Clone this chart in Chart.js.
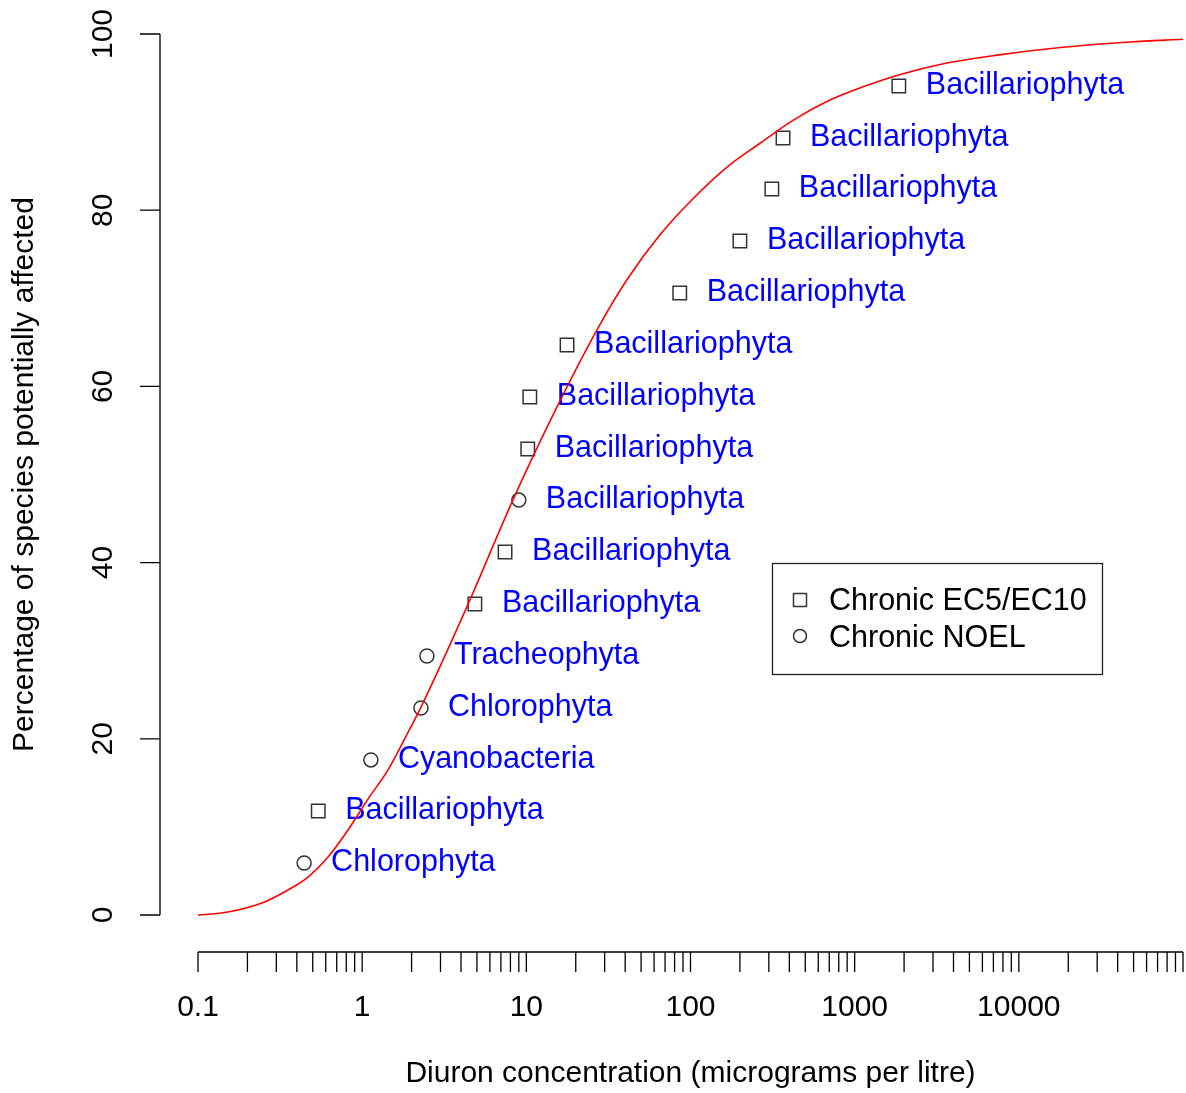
<!DOCTYPE html>
<html>
<head>
<meta charset="utf-8">
<script src="https://cdn.jsdelivr.net/npm/chart.js@4.4.0/dist/chart.umd.min.js"></script>
<style>
  html, body { margin: 0; padding: 0; background: #fff; }
  #wrap { width: 1186px; height: 1093px; }
</style>
</head>
<body>
<div id="wrap"><canvas id="ssdChart"></canvas></div>
<script>
// species sensitivity data
const speciesNames = ['Chlorophyta', 'Bacillariophyta', 'Cyanobacteria', 'Chlorophyta', 'Tracheophyta',
  'Bacillariophyta', 'Bacillariophyta', 'Bacillariophyta', 'Bacillariophyta', 'Bacillariophyta',
  'Bacillariophyta', 'Bacillariophyta', 'Bacillariophyta', 'Bacillariophyta', 'Bacillariophyta', 'Bacillariophyta'];
const concentrations = [0.443, 0.54, 1.13, 2.28, 2.48, 4.86, 7.42, 9.0, 10.2, 10.5, 17.7, 86, 200, 313, 366, 1858];
const percentAffected = [5.9, 11.8, 17.6, 23.5, 29.4, 35.3, 41.2, 47.1, 52.9, 58.8, 64.7, 70.6, 76.5, 82.4, 88.2, 94.1];
const endpointType = ['NOEL', 'EC', 'NOEL', 'NOEL', 'NOEL', 'EC', 'EC', 'NOEL', 'EC', 'EC', 'EC', 'EC', 'EC', 'EC', 'EC', 'EC'];

// fitted curve, sampled from the figure
const curveX = [0.1, 0.152, 0.245, 0.353, 0.468, 0.62, 0.82, 1.08, 1.44, 1.90, 2.31, 4.35, 8.28, 15.4,
  26.9, 41.0, 65.2, 103.5, 167, 265, 421, 706, 1122, 1807, 3645, 7350, 18540, 47400, 99800];
const curveY = [0, 0.34, 1.36, 2.84, 4.31, 6.58, 9.65, 13.1, 16.5, 20.7, 23.8, 35.0, 47.1, 57.7,
  66.4, 72.1, 77.2, 81.3, 84.9, 87.6, 90.2, 92.5, 94.0, 95.3, 96.7, 97.6, 98.5, 99.1, 99.4];

// axis ticks
const xMajorTicks = [0.1, 1, 10, 100, 1000, 10000];
const xTickLabels = ['0.1', '1', '10', '100', '1000', '10000'];
const yTicks = [0, 20, 40, 60, 80, 100];

const legendLabels = ['Chronic EC5/EC10', 'Chronic NOEL'];

const FONT = '"Liberation Sans", Arial, sans-serif';

const ecPoints = [], noelPoints = [];
concentrations.forEach((c, i) => {
  const p = { x: c, y: percentAffected[i] };
  if (endpointType[i] === 'EC') ecPoints.push(p); else noelPoints.push(p);
});
const curvePoints = curveX.map((x, i) => ({ x: x, y: curveY[i] }));

// R-style axes, labels and legend
const rStyle = {
  id: 'rStyle',
  beforeDatasetsDraw(chart) {
    const ctx = chart.ctx;
    const xs = chart.scales.x, ys = chart.scales.y;
    ctx.save();
    ctx.fillStyle = '#0000ff';
    ctx.font = '30.5px ' + FONT;
    ctx.textAlign = 'left';
    ctx.textBaseline = 'middle';
    speciesNames.forEach((name, i) => {
      const px = xs.getPixelForValue(concentrations[i]);
      const py = ys.getPixelForValue(percentAffected[i]);
      ctx.fillText(name, px + 27, py);
    });
    ctx.restore();
  },
  afterDraw(chart) {
    const ctx = chart.ctx;
    const xs = chart.scales.x, ys = chart.scales.y;
    const area = chart.chartArea;
    ctx.save();
    ctx.strokeStyle = '#000';
    ctx.fillStyle = '#000';
    ctx.lineWidth = 1.3;

    // y axis
    const yAxisX = area.left - 38;
    ctx.beginPath();
    ctx.moveTo(yAxisX, ys.getPixelForValue(0));
    ctx.lineTo(yAxisX, ys.getPixelForValue(100));
    yTicks.forEach(t => {
      const py = ys.getPixelForValue(t);
      ctx.moveTo(yAxisX, py);
      ctx.lineTo(yAxisX - 20, py);
    });
    ctx.stroke();
    ctx.font = '30px ' + FONT;
    ctx.textAlign = 'center';
    ctx.textBaseline = 'middle';
    yTicks.forEach(t => {
      ctx.save();
      ctx.translate(yAxisX - 56, ys.getPixelForValue(t));
      ctx.rotate(-Math.PI / 2);
      ctx.fillText(String(t), 0, 0);
      ctx.restore();
    });

    // x axis (log, with minor ticks)
    const xAxisY = area.bottom + 37;
    ctx.beginPath();
    ctx.moveTo(xs.getPixelForValue(0.1), xAxisY);
    ctx.lineTo(xs.getPixelForValue(100000), xAxisY);
    xMajorTicks.forEach(base => {
      for (let m = 1; m <= 9; m++) {
        const px = xs.getPixelForValue(base * m);
        ctx.moveTo(px, xAxisY);
        ctx.lineTo(px, xAxisY + 20);
      }
    });
    const endPx = xs.getPixelForValue(100000);
    ctx.moveTo(endPx, xAxisY);
    ctx.lineTo(endPx, xAxisY + 20);
    ctx.stroke();
    xMajorTicks.forEach((t, i) => {
      ctx.fillText(xTickLabels[i], xs.getPixelForValue(t), xAxisY + 56);
    });

    // axis titles
    ctx.fillText('Diuron concentration (micrograms per litre)', (area.left + area.right) / 2, 1074);
    ctx.save();
    ctx.translate(25, (area.top + area.bottom) / 2);
    ctx.rotate(-Math.PI / 2);
    ctx.fillText('Percentage of species potentially affected', 0, 0);
    ctx.restore();

    // legend box
    ctx.lineWidth = 1.3;
    ctx.strokeStyle = '#222';
    ctx.strokeRect(772.5, 563.5, 330, 111);
    ctx.lineWidth = 1.5;
    ctx.strokeStyle = '#333';
    ctx.strokeRect(793.5, 593.5, 13, 13);
    ctx.beginPath();
    ctx.arc(800, 636, 6.5, 0, Math.PI * 2);
    ctx.stroke();
    ctx.textAlign = 'left';
    ctx.fillStyle = '#000';
    ctx.font = '30.5px ' + FONT;
    ctx.fillText(legendLabels[0], 829, 602);
    ctx.fillText(legendLabels[1], 829, 639);
    ctx.restore();
  }
};

new Chart(document.getElementById('ssdChart'), {
  type: 'scatter',
  data: {
    datasets: [
      {
        label: 'Fitted SSD',
        type: 'line',
        data: curvePoints,
        borderColor: '#ff0000',
        borderWidth: 1.6,
        pointRadius: 0,
        fill: false,
        cubicInterpolationMode: 'monotone',
        clip: false,
        order: 0
      },
      {
        label: legendLabels[0],
        data: ecPoints,
        pointStyle: 'rect',
        pointRadius: 9.5,
        backgroundColor: 'rgba(0,0,0,0)',
        borderColor: '#333',
        borderWidth: 1.5,
        clip: false,
        order: 1
      },
      {
        label: legendLabels[1],
        data: noelPoints,
        pointStyle: 'circle',
        pointRadius: 7,
        backgroundColor: 'rgba(0,0,0,0)',
        borderColor: '#333',
        borderWidth: 1.5,
        clip: false,
        order: 1
      }
    ]
  },
  options: {
    responsive: true,
    maintainAspectRatio: false,
    animation: false,
    layout: { autoPadding: false, padding: { left: 198, right: 3, top: 34, bottom: 178 } },
    scales: {
      x: { type: 'logarithmic', min: 0.1, max: 100000, display: false },
      y: { type: 'linear', min: 0, max: 100, display: false }
    },
    plugins: {
      legend: { display: false },
      tooltip: { enabled: false }
    }
  },
  plugins: [rStyle]
});
</script>
</body>
</html>
